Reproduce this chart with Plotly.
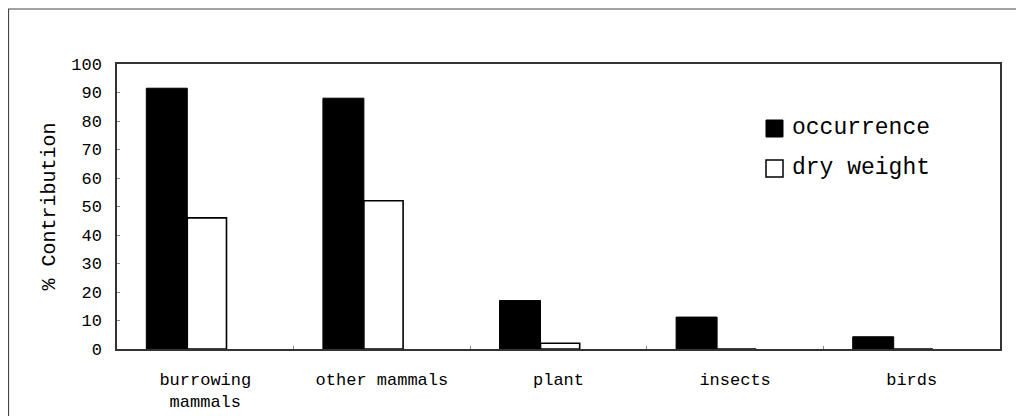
import plotly.graph_objects as go

categories = ["burrowing<br>mammals", "other mammals", "plant", "insects", "birds"]
occurrence = [91.5, 88, 17, 11.2, 4.3]
dry_weight = [46, 52, 2, 0, 0]
series_names = ["occurrence", "dry weight"]
y_ticks = list(range(0, 101, 10))

W, H = 1024, 416
OFF = 8  # page body margin
# plot area in page pixels
PX0, PX1, PY0, PY1 = 117, 1000, 64, 349
L = PX0 - OFF
T = PY0 - OFF
R = W - (PX1 - OFF)
B = H - (PY1 - OFF)
pw, ph = PX1 - PX0, PY1 - PY0

def px_x(x):
    return (x - PX0) / pw

def px_y(y):
    return (PY1 - y) / ph

fig = go.Figure()
fig.add_trace(go.Bar(
    x=categories, y=occurrence, name=series_names[0],
    marker=dict(color="black", line=dict(color="black", width=1)),
    offset=-0.334, width=0.232, showlegend=False,
))
fig.add_trace(go.Bar(
    x=categories, y=dry_weight, name=series_names[1],
    marker=dict(color="white", line=dict(color="black", width=1.6)),
    offset=-0.102, width=0.222, showlegend=False,
))

mono = "Liberation Mono"

shapes = [
    # outer frame
    dict(type="rect", xref="paper", yref="paper",
         x0=px_x(8.5), x1=px_x(1040), y0=px_y(440), y1=px_y(9),
         line=dict(color="#444", width=1.2), fillcolor="rgba(0,0,0,0)", layer="below"),
    # legend squares
    dict(type="rect", xref="paper", yref="paper",
         x0=px_x(766), x1=px_x(783), y0=px_y(137), y1=px_y(120),
         line=dict(color="black", width=1), fillcolor="black"),
    dict(type="rect", xref="paper", yref="paper",
         x0=px_x(766), x1=px_x(783), y0=px_y(177), y1=px_y(160),
         line=dict(color="black", width=1.5), fillcolor="white"),
]
annotations = [
    dict(text=series_names[0], xref="paper", yref="paper", x=px_x(790), y=px_y(128),
         xanchor="left", yanchor="middle", showarrow=False,
         font=dict(family=mono, size=23, color="black")),
    dict(text=series_names[1], xref="paper", yref="paper", x=px_x(790), y=px_y(168),
         xanchor="left", yanchor="middle", showarrow=False,
         font=dict(family=mono, size=23, color="black")),
]

fig.update_layout(
    width=W, height=H,
    margin=dict(l=L, r=R, t=T, b=B, autoexpand=False),
    paper_bgcolor="white", plot_bgcolor="white",
    barmode="overlay",
    shapes=shapes, annotations=annotations,
    font=dict(family=mono, color="black"),
)
fig.update_xaxes(
    showline=True, mirror=True, linecolor="#333", linewidth=1.5,
    ticks="inside", ticklen=3, tickcolor="#888", tickson="boundaries",
    tickfont=dict(family=mono, size=17, color="black"),
    ticklabelstandoff=14, showgrid=False,
)
fig.update_yaxes(
    range=[0, 100], tickvals=y_ticks,
    showline=True, mirror=True, linecolor="#333", linewidth=1.5,
    ticks="inside", ticklen=3, tickcolor="#888",
    tickfont=dict(family=mono, size=17, color="black"),
    ticklabelstandoff=10, showgrid=False, zeroline=False,
    title=dict(text="% Contribution", font=dict(family=mono, size=20, color="black"), standoff=10),
)

fig.write_html("out.html")
